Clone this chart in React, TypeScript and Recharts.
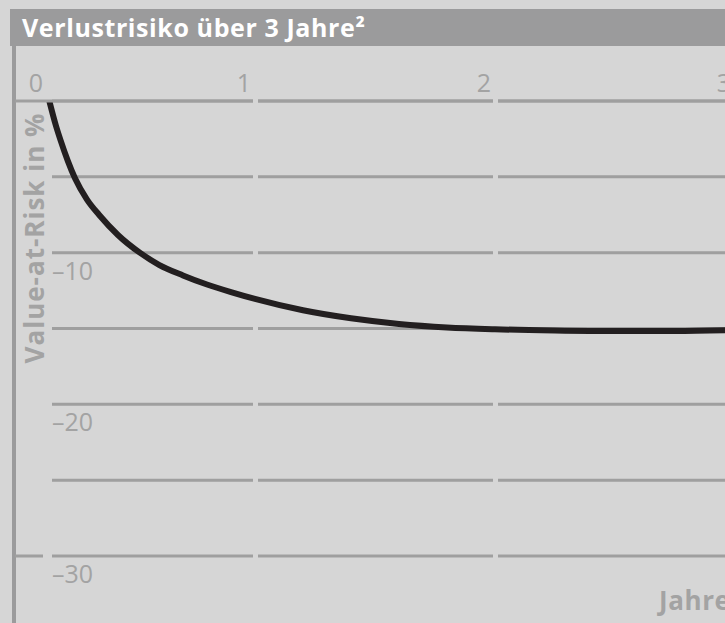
import React from 'react';
import { LineChart, Line, XAxis, YAxis, CartesianGrid, ReferenceLine } from 'recharts';

// Verlustrisiko (Value-at-Risk) über die Anlagedauer
const years = [0.143, 0.17, 0.19, 0.22, 0.25, 0.3, 0.35, 0.43, 0.52, 0.6, 0.7, 0.8, 0.9, 1.0, 1.2, 1.4, 1.6, 1.8, 2.0, 2.25, 2.5, 2.75, 3.0];
const valueAtRisk = [0, -1.6, -2.6, -3.95, -5.1, -6.5, -7.5, -8.85, -10.0, -10.8, -11.5, -12.1, -12.6, -13.05, -13.8, -14.33, -14.7, -14.93, -15.05, -15.13, -15.17, -15.16, -15.1];
const xTicks = [0, 1, 2, 3];
const yTicks = [0, -5, -10, -15, -20, -25, -30];
const yLabelled = [-10, -20, -30];

const title = 'Verlustrisiko über 3 Jahre²';
const yTitle = 'Value-at-Risk in %';
const xTitle = 'Jahre';

const BG = '#d6d6d6';
const BAR = '#9b9b9c';
const GRID = '#9f9f9f';
const LABEL = '#a3a3a3';
const FONT = "'Open Sans', sans-serif";

const chartData = years.map((t, i) => ({ t, v: valueAtRisk[i] }));

const fmt = (v: number) => (v < 0 ? `\u2013${Math.abs(v)}` : `${v}`);

const XTick = (props: any) => {
  const { x, y, payload } = props;
  // the 0 label sits a bit inside the frame
  const dx = payload.value === 0 ? 28 : -4;
  return (
    <text x={x + dx} y={y} textAnchor="end" fill={LABEL} fontSize={25} fontFamily={FONT}>
      {payload.value}
    </text>
  );
};

const YTick = (props: any) => {
  const { x, y, payload } = props;
  if (!yLabelled.includes(payload.value)) return <g />;
  return (
    <text x={x + 37} y={y + 27} textAnchor="start" fill={LABEL} fontSize={25} fontFamily={FONT}>
      {fmt(payload.value)}
    </text>
  );
};

const App: React.FC = () => {
  return (
    <div
      style={{
        position: 'absolute',
        left: 0,
        top: 0,
        width: 725,
        height: 623,
        overflow: 'hidden',
        background: BG,
        fontFamily: FONT,
      }}
    >
      <div
        style={{
          position: 'absolute',
          left: 10,
          top: 9,
          width: 760,
          height: 37,
          background: BAR,
          color: '#ffffff',
          fontWeight: 700,
          fontSize: 25,
          letterSpacing: 0.6,
          lineHeight: '37px',
          paddingLeft: 12,
          boxSizing: 'border-box',
          whiteSpace: 'nowrap',
        }}
      >
        {title}
      </div>
      <div style={{ position: 'absolute', left: 12, top: 46, width: 4, height: 600, background: BAR }} />
      <div style={{ position: 'absolute', left: 0, top: 0 }}>
        <LineChart width={760} height={623} data={chartData} margin={{ top: 0, right: 25, bottom: 67, left: 0 }}>
          <CartesianGrid
            horizontal
            vertical={false}
            stroke={GRID}
            strokeWidth={3}
            strokeDasharray="0 37 201 5 235 5 400"
          />
          <XAxis
            orientation="top"
            type="number"
            dataKey="t"
            domain={[0, 3]}
            ticks={xTicks}
            height={101}
            tickLine={false}
            tickSize={9}
            tickMargin={0}
            axisLine={{ stroke: GRID, strokeWidth: 3, strokeDasharray: '238 5 235 5 400' }}
            tick={<XTick />}
            interval={0}
          />
          <YAxis
            type="number"
            domain={[-30, 0]}
            ticks={yTicks}
            width={15}
            axisLine={false}
            tickLine={false}
            tickSize={0}
            tickMargin={0}
            tick={<YTick />}
            interval={0}
          />
          <ReferenceLine y={-30} stroke={GRID} strokeWidth={3} strokeDasharray="28 1000" />
          <Line
            type="monotone"
            dataKey="v"
            stroke="#231f20"
            strokeWidth={6}
            dot={false}
            activeDot={false}
            isAnimationActive={false}
          />
        </LineChart>
      </div>
      <div
        style={{
          position: 'absolute',
          left: 34,
          top: 238,
          transform: 'translate(-50%, -50%) rotate(-90deg)',
          color: LABEL,
          fontWeight: 700,
          fontSize: 26,
          letterSpacing: 1,
          whiteSpace: 'nowrap',
          lineHeight: 1,
        }}
      >
        {yTitle}
      </div>
      <div
        style={{
          position: 'absolute',
          left: 659,
          top: 587,
          color: LABEL,
          fontWeight: 700,
          fontSize: 26,
          letterSpacing: 0.6,
          whiteSpace: 'nowrap',
          lineHeight: 1,
        }}
      >
        {xTitle}
      </div>
    </div>
  );
};

export default App;
